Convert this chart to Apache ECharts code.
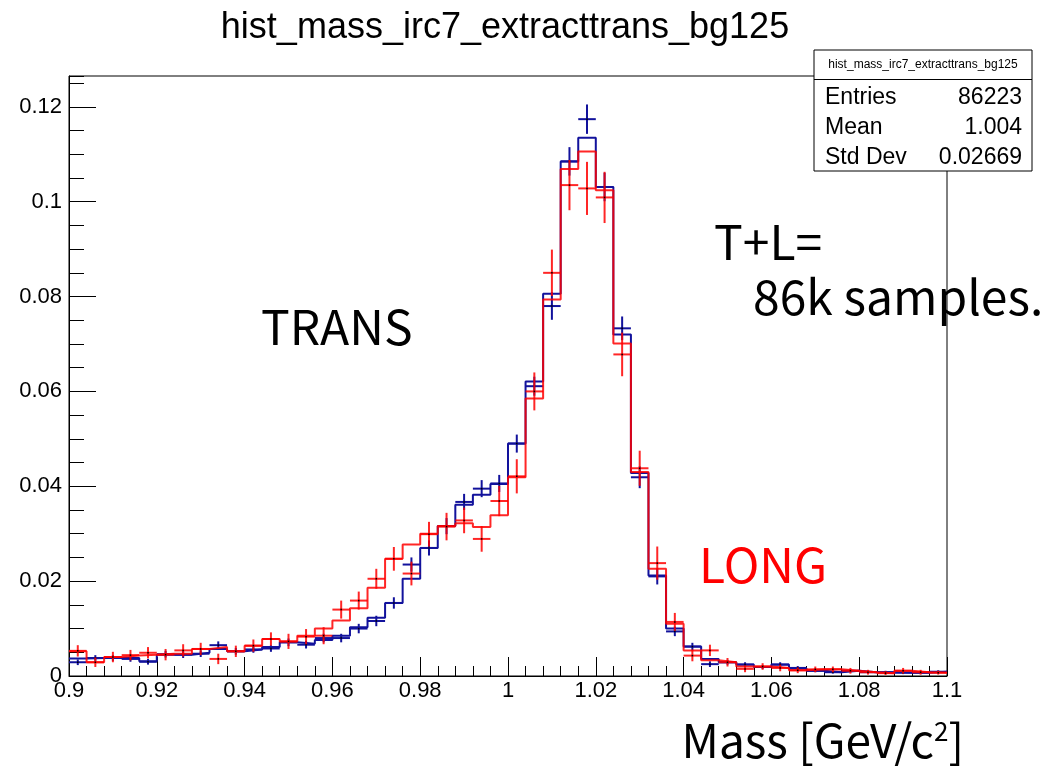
<!DOCTYPE html>
<html><head><meta charset="utf-8">
<script src="https://cdn.jsdelivr.net/npm/echarts@6/dist/echarts.min.js"></script>
<style>html,body{margin:0;padding:0;background:#fff}#c{width:1043px;height:768px}</style>
</head><body><div id="c"></div>
<script>
// ---- data ----
const xMin = 0.9, xMax = 1.1, binWidth = 0.004;
const histTitle = 'hist_mass_irc7_extracttrans_bg125';
const statsLabels = ['Entries', 'Mean', 'Std Dev'];
const statsValues = ['86223', '1.004', '0.02669'];
// TRANS (blue): step outline, data points, errors
const transStep = [0.0037,0.0038,0.0038,0.0038,0.0031,0.0045,0.0045,0.0049,0.0057,0.0052,
  0.0056,0.0061,0.0071,0.0068,0.0076,0.0085,0.0103,0.0123,0.0154,0.0205,
  0.0270,0.0316,0.0361,0.0382,0.0405,0.0490,0.0621,0.0806,0.1085,0.1135,
  0.1031,0.0720,0.0428,0.0212,0.0100,0.0062,0.0036,0.0029,0.0024,0.0019,
  0.0024,0.0016,0.0011,0.0008,0.0011,0.0008,0.0008,0.0007,0.0007,0.0009];
const transPoint = [0.0029,0.0038,0.0038,0.0036,0.0030,0.0046,0.0045,0.0047,0.0065,0.0052,
  0.0056,0.0058,0.0071,0.0066,0.0080,0.0080,0.0100,0.0116,0.0154,0.0235,
  0.0270,0.0316,0.0367,0.0395,0.0406,0.0490,0.0611,0.0780,0.1085,0.1174,
  0.1031,0.0733,0.0419,0.0210,0.0094,0.0062,0.0025,0.0029,0.0024,0.0019,
  0.0024,0.0017,0.0011,0.0008,0.0011,0.0008,0.0008,0.0007,0.0007,0.0009];
const transErr = [0.0006,0.0006,0.0006,0.0006,0.0006,0.0007,0.0007,0.0007,0.0008,0.0007,
  0.0007,0.0007,0.0008,0.0008,0.0009,0.0009,0.0010,0.0011,0.0012,0.0015,
  0.0016,0.0017,0.0017,0.0018,0.0018,0.0019,0.0020,0.0029,0.0030,0.0031,
  0.0030,0.0025,0.0023,0.0017,0.0010,0.0008,0.0006,0.0005,0.0005,0.0004,
  0.0005,0.0004,0.0003,0.0003,0.0003,0.0003,0.0003,0.0003,0.0003,0.0003];
// LONG (red)
const longStep = [0.0052,0.0029,0.0040,0.0043,0.0045,0.0047,0.0047,0.0057,0.0061,0.0052,
  0.0064,0.0078,0.0073,0.0085,0.0100,0.0117,0.0143,0.0186,0.0247,0.0277,
  0.0300,0.0316,0.0322,0.0314,0.0339,0.0419,0.0585,0.0794,0.1069,0.1106,
  0.1024,0.0701,0.0430,0.0226,0.0110,0.0054,0.0033,0.0029,0.0020,0.0020,
  0.0017,0.0012,0.0014,0.0014,0.0011,0.0008,0.0006,0.0011,0.0008,0.0007];
const longPoint = [0.0053,0.0029,0.0040,0.0044,0.0049,0.0045,0.0054,0.0057,0.0036,0.0052,
  0.0064,0.0078,0.0073,0.0083,0.0085,0.0140,0.0159,0.0205,0.0247,0.0216,
  0.0299,0.0315,0.0328,0.0289,0.0369,0.0421,0.0600,0.0850,0.1035,0.1028,
  0.1009,0.0678,0.0438,0.0238,0.0114,0.0043,0.0054,0.0029,0.0015,0.0020,
  0.0017,0.0012,0.0014,0.0014,0.0011,0.0008,0.0006,0.0011,0.0008,0.0007];
const longErr = [0.0012,0.0010,0.0011,0.0011,0.0012,0.0012,0.0013,0.0013,0.0011,0.0012,
  0.0013,0.0014,0.0016,0.0016,0.0018,0.0019,0.0019,0.0021,0.0025,0.0025,
  0.0026,0.0029,0.0027,0.0027,0.0032,0.0036,0.0040,0.0049,0.0053,0.0056,
  0.0054,0.0046,0.0037,0.0035,0.0019,0.0012,0.0012,0.0009,0.0007,0.0007,
  0.0007,0.0006,0.0006,0.0006,0.0006,0.0005,0.0004,0.0006,0.0005,0.0004];

// ---- build ----
const BLUE = '#12129c', RED = 'rgba(255,0,0,0.85)';
const edge = i => +(xMin + i * binWidth).toFixed(4);
function stepData(vals) {
  const d = vals.map((v, i) => [edge(i), v]);
  d.push([xMax, vals[vals.length - 1]]);
  return d;
}
function stepSeries(vals, color, z) {
  return { type: 'line', step: 'end', data: stepData(vals), symbol: 'none', z: z,
    lineStyle: { color: color, width: 2 }, animation: false, clip: true };
}
function crossSeries(pts, errs, color, z) {
  return {
    type: 'custom', z: z, animation: false, clip: true,
    encode: { x: 0, y: 1 },
    data: pts.map((v, i) => [+(xMin + (i + 0.5) * binWidth).toFixed(4), v, errs[i]]),
    renderItem: function (params, api) {
      const xc = api.value(0), v = api.value(1), e = api.value(2);
      const l = api.coord([xc - binWidth / 2, v]);
      const r = api.coord([xc + binWidth / 2, v]);
      const t = api.coord([xc, v + e]);
      const b = api.coord([xc, Math.max(v - e, 0)]);
      return { type: 'group', children: [
        { type: 'line', shape: { x1: l[0], y1: l[1], x2: r[0], y2: r[1] }, style: { stroke: color, lineWidth: 2 } },
        { type: 'line', shape: { x1: t[0], y1: t[1], x2: b[0], y2: b[1] }, style: { stroke: color, lineWidth: 2 } },
        { type: 'rect', shape: { x: l[0] + (r[0] - l[0]) / 2 - 0.75, y: l[1] - 0.75, width: 1.5, height: 1.5 }, style: { fill: '#000' } }
      ] };
    }
  };
}

const tickFont = { fontFamily: 'Liberation Sans', fontSize: 22, color: '#000' };
const yMaxVal = 0.1265;
const annFont = '48px "Noto Sans CJK JP"';
const chart = echarts.init(document.getElementById('c'), null, { renderer: 'canvas' });
chart.setOption({
  animation: false,
  backgroundColor: '#fff',
  grid: { left: 69, right: 96, top: 76, bottom: 92, show: true, borderColor: '#000', borderWidth: 1, backgroundColor: 'transparent' },
  title: { text: histTitle, left: 500, top: 5, textAlign: 'center',
    textStyle: { fontFamily: 'Liberation Sans', fontSize: 36, fontWeight: 'normal', color: '#000' } },
  xAxis: {
    type: 'value', min: xMin, max: xMax, interval: 0.02,
    axisLine: { lineStyle: { color: '#000', width: 1 } },
    axisTick: { inside: true, length: 19, lineStyle: { color: '#000' } },
    minorTick: { show: true, splitNumber: 5, length: 10, lineStyle: { color: '#000' } },
    splitLine: { show: false },
    axisLabel: Object.assign({ margin: 4, formatter: v => String(+v.toFixed(2)) }, tickFont)
  },
  yAxis: [{
    type: 'value', min: 0, max: yMaxVal, interval: 0.02,
    axisLine: { show: true, lineStyle: { color: '#000', width: 1 } },
    axisTick: { inside: true, length: 27, lineStyle: { color: '#000' } },
    splitLine: { show: false },
    axisLabel: Object.assign({ margin: 7, showMaxLabel: false, formatter: v => String(+v.toFixed(2)) }, tickFont)
  }, {
    type: 'value', min: 0, max: yMaxVal, interval: 0.005, position: 'left', offset: 0,
    axisLine: { show: false },
    axisTick: { show: true, inside: true, length: 15, lineStyle: { color: '#000' } },
    splitLine: { show: false },
    axisLabel: { show: false }
  }],
  series: [
    stepSeries(transStep, BLUE, 2),
    crossSeries(transPoint, transErr, BLUE, 3),
    stepSeries(longStep, RED, 4),
    crossSeries(longPoint, longErr, RED, 5)
  ],
  graphic: [
    { type: 'rect', z: 100, shape: { x: 814, y: 50, width: 218, height: 121 }, style: { fill: '#fff', stroke: '#000', lineWidth: 1 } },
    { type: 'line', z: 101, shape: { x1: 814, y1: 79.5, x2: 1032, y2: 79.5 }, style: { stroke: '#000', lineWidth: 1 } },
    { type: 'text', z: 101, x: 923, y: 65, style: { text: histTitle, font: '12px "Liberation Sans"', fill: '#000', textAlign: 'center', textVerticalAlign: 'middle' } },
    ...statsLabels.map((s, i) => ({ type: 'text', z: 101, x: 825, y: 98 + 30 * i, style: { text: s, font: '23px "Liberation Sans"', fill: '#000', textAlign: 'left', textVerticalAlign: 'middle' } })),
    ...statsValues.map((s, i) => ({ type: 'text', z: 101, x: 1022, y: 98 + 30 * i, style: { text: s, font: '23px "Liberation Sans"', fill: '#000', textAlign: 'right', textVerticalAlign: 'middle' } })),
    { type: 'text', z: 101, x: 261, y: 327, style: { text: 'TRANS', font: annFont, fill: '#000', textVerticalAlign: 'middle' } },
    { type: 'text', z: 101, x: 714, y: 242, style: { text: 'T+L=', font: annFont, fill: '#000', textVerticalAlign: 'middle' } },
    { type: 'text', z: 101, x: 753, y: 297, style: { text: '86k samples.', font: annFont, fill: '#000', textVerticalAlign: 'middle' } },
    { type: 'text', z: 101, x: 699, y: 565, style: { text: 'LONG', font: annFont, fill: '#ff0000', textVerticalAlign: 'middle' } },
    { type: 'text', z: 101, x: 964, y: 741, style: {
        text: 'Mass [GeV/c{sup|2}]', textAlign: 'right', textVerticalAlign: 'middle',
        font: '46px "Noto Sans CJK JP"', fill: '#000',
        rich: { sup: { fontSize: 26, fontFamily: 'Noto Sans CJK JP', verticalAlign: 'top', padding: [0, 0, 19, 0] } } } }
  ]
});
</script></body></html>
